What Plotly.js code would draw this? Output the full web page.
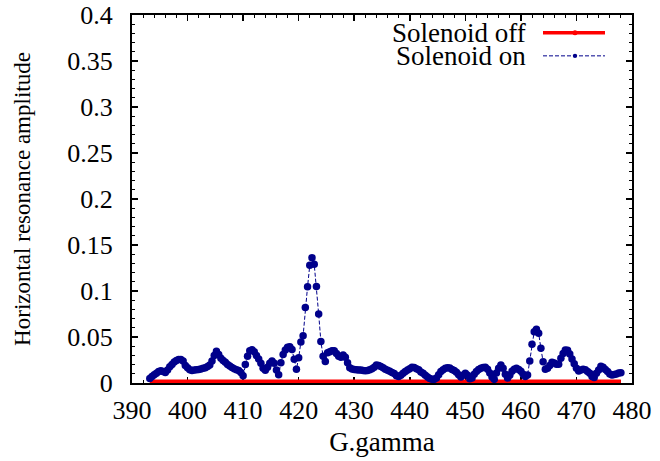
<!DOCTYPE html>
<html>
<head>
<meta charset="utf-8">
<script src="https://cdn.plot.ly/plotly-3.0.1.min.js"></script>
<style>html,body{margin:0;padding:0;background:#fff;}#chart{width:660px;height:461px;}</style>
</head>
<body>
<div id="chart"></div>
<script>
// G.gamma sample positions
const gGamma = [
  393.2,393.6,394.0,394.4,394.8,395.2,395.6,396.0,396.4,396.8,
  397.2,397.6,398.0,398.4,398.8,399.2,399.6,400.0,400.4,400.8,
  401.2,401.6,402.0,402.4,402.8,403.2,403.6,404.0,404.4,404.8,
  405.2,405.6,406.0,406.4,406.8,407.2,407.6,408.0,408.4,408.8,
  409.2,409.6,410.0,410.4,410.8,411.2,411.6,412.0,412.4,412.8,
  413.2,413.6,414.0,414.4,414.8,415.2,415.6,416.0,416.4,416.8,
  417.2,417.6,418.0,418.4,418.8,419.2,419.6,420.0,420.4,420.8,
  421.2,421.6,422.0,422.4,422.8,423.2,423.6,424.0,424.4,424.8,
  425.2,425.6,426.0,426.4,426.8,427.2,427.6,428.0,428.4,428.8,
  429.2,429.6,430.0,430.4,430.8,431.2,431.6,432.0,432.4,432.8,
  433.2,433.6,434.0,434.4,434.8,435.2,435.6,436.0,436.4,436.8,
  437.2,437.6,438.0,438.4,438.8,439.2,439.6,440.0,440.4,440.8,
  441.2,441.6,442.0,442.4,442.8,443.2,443.6,444.0,444.4,444.8,
  445.2,445.6,446.0,446.4,446.8,447.2,447.6,448.0,448.4,448.8,
  449.2,449.6,450.0,450.4,450.8,451.2,451.6,452.0,452.4,452.8,
  453.2,453.6,454.0,454.4,454.8,455.2,455.6,456.0,456.4,456.8,
  457.2,457.6,458.0,458.4,458.8,459.2,459.6,460.0,460.4,460.8,
  461.2,461.6,462.0,462.4,462.8,463.2,463.6,464.0,464.4,464.8,
  465.2,465.6,466.0,466.4,466.8,467.2,467.6,468.0,468.4,468.8,
  469.2,469.6,470.0,470.4,470.8,471.2,471.6,472.0,472.4,472.8,
  473.2,473.6,474.0,474.4,474.8,475.2,475.6,476.0,476.4,476.8,
  477.2,477.6,478.0
];

// Solenoid off amplitude (essentially zero)
const solenoidOff = [
  0.002,0.002,0.002,0.002,0.002,0.002,0.002,0.002,0.002,0.002,
  0.002,0.002,0.002,0.002,0.002,0.002,0.002,0.002,0.002,0.002,
  0.002,0.002,0.002,0.002,0.002,0.002,0.002,0.002,0.002,0.002,
  0.002,0.002,0.002,0.002,0.002,0.002,0.002,0.002,0.002,0.002,
  0.002,0.002,0.002,0.002,0.002,0.002,0.002,0.002,0.002,0.002,
  0.002,0.002,0.002,0.002,0.002,0.002,0.002,0.002,0.002,0.002,
  0.002,0.002,0.002,0.002,0.002,0.002,0.002,0.002,0.002,0.002,
  0.002,0.002,0.002,0.002,0.002,0.002,0.002,0.002,0.002,0.002,
  0.002,0.002,0.002,0.002,0.002,0.002,0.002,0.002,0.002,0.002,
  0.002,0.002,0.002,0.002,0.002,0.002,0.002,0.002,0.002,0.002,
  0.002,0.002,0.002,0.002,0.002,0.002,0.002,0.002,0.002,0.002,
  0.002,0.002,0.002,0.002,0.002,0.002,0.002,0.002,0.002,0.002,
  0.002,0.002,0.002,0.002,0.002,0.002,0.002,0.002,0.002,0.002,
  0.002,0.002,0.002,0.002,0.002,0.002,0.002,0.002,0.002,0.002,
  0.002,0.002,0.002,0.002,0.002,0.002,0.002,0.002,0.002,0.002,
  0.002,0.002,0.002,0.002,0.002,0.002,0.002,0.002,0.002,0.002,
  0.002,0.002,0.002,0.002,0.002,0.002,0.002,0.002,0.002,0.002,
  0.002,0.002,0.002,0.002,0.002,0.002,0.002,0.002,0.002,0.002,
  0.002,0.002,0.002,0.002,0.002,0.002,0.002,0.002,0.002,0.002,
  0.002,0.002,0.002,0.002,0.002,0.002,0.002,0.002,0.002,0.002,
  0.002,0.002,0.002,0.002,0.002,0.002,0.002,0.002,0.002,0.002,
  0.002,0.002,0.002
];

// Solenoid on amplitude
const solenoidOn = [
  0.005,0.007,0.009,0.0105,0.0125,0.0133,0.0125,0.0115,0.014,0.0177,
  0.020,0.0228,0.0245,0.0255,0.0255,0.024,0.019,0.0165,0.0145,0.0135,
  0.0142,0.0145,0.0148,0.0153,0.016,0.0165,0.018,0.0196,0.024,0.030,
  0.0345,0.031,0.027,0.0245,0.0225,0.020,0.0185,0.0168,0.0155,0.0145,
  0.0135,0.0115,0.008,0.020,0.029,0.035,0.0362,0.034,0.030,0.026,
  0.0214,0.016,0.0138,0.017,0.0215,0.0238,0.0214,0.014,0.009,0.022,
  0.031,0.036,0.0388,0.0395,0.0365,0.0257,0.015,0.0275,0.0445,0.0514,
  0.082,0.1047,0.128,0.1362,0.129,0.105,0.075,0.045,0.029,0.0235,
  0.033,0.034,0.035,0.0351,0.0322,0.029,0.028,0.0304,0.028,0.022,
  0.0167,0.0152,0.0148,0.0145,0.0142,0.014,0.0137,0.0134,0.0137,0.0145,
  0.0155,0.017,0.0196,0.019,0.0178,0.0165,0.015,0.0138,0.0128,0.0115,
  0.0102,0.008,0.0072,0.0085,0.0105,0.0125,0.0142,0.0155,0.017,0.0168,
  0.0155,0.0145,0.012,0.0105,0.0085,0.0065,0.005,0.0042,0.004,0.0055,
  0.009,0.0125,0.0145,0.016,0.0165,0.0162,0.0148,0.0135,0.0118,0.009,
  0.0065,0.0085,0.0105,0.0085,0.0045,0.0055,0.0095,0.0125,0.0148,0.016,
  0.0168,0.0172,0.015,0.011,0.0065,0.004,0.011,0.016,0.0196,0.016,
  0.0095,0.0055,0.0085,0.0128,0.015,0.016,0.0148,0.0128,0.0095,0.007,
  0.0087,0.024,0.042,0.0558,0.0585,0.054,0.0377,0.0232,0.015,0.016,
  0.019,0.0225,0.0218,0.0205,0.0205,0.027,0.0322,0.036,0.0355,0.0315,
  0.026,0.021,0.016,0.013,0.014,0.0149,0.0145,0.0125,0.0105,0.007,
  0.006,0.0105,0.014,0.0183,0.017,0.0148,0.0125,0.0098,0.0088,0.0093,
  0.0098,0.0108,0.0112
];

const seriesNames = ["Solenoid off", "Solenoid on"];
const xTickVals = [390, 400, 410, 420, 430, 440, 450, 460, 470, 480];
const xTickText = ["390", "400", "410", "420", "430", "440", "450", "460", "470", "480"];
const yTickVals = [0, 0.05, 0.1, 0.15, 0.2, 0.25, 0.3, 0.35, 0.4];
const yTickText = ["0", "0.05", "0.1", "0.15", "0.2", "0.25", "0.3", "0.35", "0.4"];

const RED = "#FF0000";
const BLUE = "#00008B";
const FONT = "'Liberation Serif', 'Times New Roman', Times, serif";

const traces = [
  {
    x: gGamma, y: solenoidOff, name: seriesNames[0], type: "scatter",
    mode: "lines",
    line: {color: RED, width: 3.5},
    showlegend: false
  },
  {
    x: gGamma, y: solenoidOn, name: seriesNames[1], type: "scatter",
    mode: "lines+markers",
    line: {color: BLUE, width: 1, dash: "4px,2px"},
    marker: {color: BLUE, size: 7.5},
    showlegend: false
  }
];

const axisCommon = {
  showgrid: false, zeroline: false,
  showline: true, linecolor: "#000", linewidth: 2,
  mirror: "ticks", ticks: "inside", ticklen: 6, tickwidth: 1.5, tickcolor: "#000",
  tickfont: {family: FONT, size: 26, color: "#000"},
  automargin: false, layer: "below traces"
};

const layout = {
  width: 660, height: 461,
  margin: {l: 132, r: 28, t: 15, b: 78},
  paper_bgcolor: "#fff", plot_bgcolor: "#fff",
  font: {family: FONT, color: "#000"},
  showlegend: false,
  xaxis: Object.assign({}, axisCommon, {
    range: [390, 480], tickmode: "array", tickvals: xTickVals, ticktext: xTickText,
    ticklabelstandoff: 3,
    minor: {dtick: 2, ticks: "inside", ticklen: 3, tickwidth: 1, tickcolor: "#000"},
    title: {text: "G.gamma", font: {family: FONT, size: 27, color: "#000"}, standoff: 8}
  }),
  yaxis: Object.assign({}, axisCommon, {
    range: [0, 0.4], tickmode: "array", tickvals: yTickVals, ticktext: yTickText,
    ticklabelstandoff: 12,
    minor: {dtick: 0.01, ticks: "inside", ticklen: 3, tickwidth: 1, tickcolor: "#000"},
    title: {text: "Horizontal resonance amplitude", font: {family: FONT, size: 23, color: "#000"}, standoff: 30}
  }),
  annotations: [
    {xref: "paper", yref: "paper", x: 0.792, y: 0.952, xanchor: "right", yanchor: "middle",
     text: seriesNames[0], showarrow: false, font: {family: FONT, size: 27, color: "#000"}},
    {xref: "paper", yref: "paper", x: 0.792, y: 0.889, xanchor: "right", yanchor: "middle",
     text: seriesNames[1], showarrow: false, font: {family: FONT, size: 27, color: "#000"}}
  ],
  shapes: [
    {type: "line", xref: "paper", yref: "paper", x0: 0.822, x1: 0.946, y0: 0.952, y1: 0.952,
     line: {color: RED, width: 3.5}},
    {type: "circle", xref: "paper", yref: "paper", xsizemode: "pixel", ysizemode: "pixel",
     xanchor: 0.886, yanchor: 0.952, x0: -2.5, x1: 2.5, y0: -2.5, y1: 2.5,
     fillcolor: RED, line: {width: 0}},
    {type: "line", xref: "paper", yref: "paper", x0: 0.822, x1: 0.946, y0: 0.889, y1: 0.889,
     line: {color: BLUE, width: 1, dash: "4px,2px"}},
    {type: "circle", xref: "paper", yref: "paper", xsizemode: "pixel", ysizemode: "pixel",
     xanchor: 0.886, yanchor: 0.889, x0: -2.2, x1: 2.2, y0: -2.2, y1: 2.2,
     fillcolor: BLUE, line: {width: 0}}
  ]
};

Plotly.newPlot("chart", traces, layout, {displayModeBar: false, staticPlot: true});
</script>
</body>
</html>
